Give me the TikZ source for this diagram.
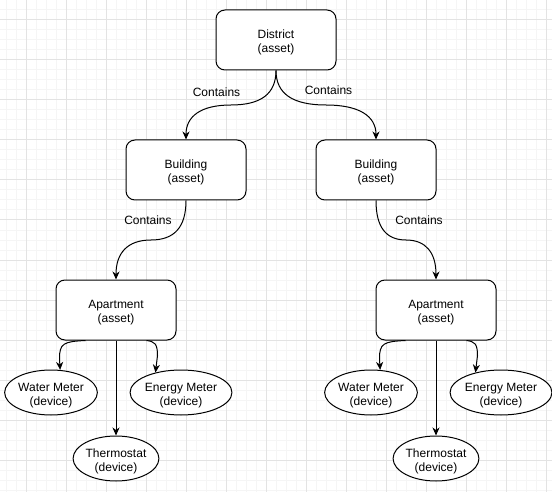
\documentclass[tikz,border=0pt]{standalone}
\usepackage{fontspec}
\setmainfont{Liberation Sans}
\usetikzlibrary{arrows.meta,shapes.geometric,calc}
\definecolor{minorgrid}{HTML}{F5F5F5}
\definecolor{majorgrid}{HTML}{E3E3E3}
\newcommand{\tstrut}{\rule{0pt}{14pt}}
\begin{document}
\begin{tikzpicture}[x=1pt,y=-1pt,
  every node/.style={font=\fontsize{12pt}{14pt}\selectfont},
  asset/.style={draw,line width=1pt,fill=white,rectangle,rounded corners=9pt,
    minimum width=120pt,minimum height=60pt,inner sep=0pt,align=center},
  device/.style={draw,line width=1pt,fill=white,ellipse,
    minimum width=90pt,minimum height=45pt,inner sep=0pt,align=center},
  thermo/.style={device,minimum width=80pt},
  edge/.style={line width=1pt,-{Stealth[length=8pt,width=7pt,inset=2.5pt]}},
  lbl/.style={inner sep=0pt}]
\useasboundingbox (0,0) rectangle (552,492);
\fill[white] (0,0) rectangle (552,492);
% grid
\foreach \x in {6,16,...,546} \draw[minorgrid,line width=1pt] (\x,0) -- (\x,492);
\foreach \y in {0,10,...,490} \draw[minorgrid,line width=1pt] (0,\y) -- (552,\y);
\foreach \x in {26,66,...,546} \draw[majorgrid,line width=1pt] (\x,0) -- (\x,492);
\foreach \y in {20,60,...,490} \draw[majorgrid,line width=1pt] (0,\y) -- (552,\y);
% nodes
\node[asset] (D) at (276,40) {\tstrut District\\(asset)};
\node[asset] (B1) at (186,170) {\tstrut Building\\(asset)};
\node[asset] (B2) at (376,170) {\tstrut Building\\(asset)};
\node[asset] (A1) at (116,310) {\tstrut Apartment\\(asset)};
\node[asset] (A2) at (436,310) {\tstrut Apartment\\(asset)};
\node[device] (W1) at (51,392.5) {\tstrut Water Meter\\(device)};
\node[device] (E1) at (181,392.5) {\tstrut Energy Meter\\(device)};
\node[thermo] (T1) at (116,458.5) {\tstrut Thermostat\\(device)};
\node[device] (W2) at (371,392.5) {\tstrut Water Meter\\(device)};
\node[device] (E2) at (501,392.5) {\tstrut Energy Meter\\(device)};
\node[thermo] (T2) at (436,458.5) {\tstrut Thermostat\\(device)};
% labels
\node[lbl] (l1) at (216.5,92) {Contains};
\node[lbl] (l2) at (328.5,90) {Contains};
\node[lbl] (l3) at (148,220) {Contains};
\node[lbl] (l4) at (419,220) {Contains};
% edges
\draw[edge] (D.south) .. controls +(0,23.3) and +(30,0) .. ($(D.south)!0.5!(B1.north)$)
  .. controls +(-30,0) and +(0,-23.3) .. (B1.north);
\draw[edge] (D.south) .. controls +(0,23.3) and +(-33.3,0) .. ($(D.south)!0.5!(B2.north)$)
  .. controls +(33.3,0) and +(0,-23.3) .. (B2.north);
\draw[edge] (B1.south) .. controls +(0,26.7) and +(23.3,0) .. ($(B1.south)!0.5!(A1.north)$)
  .. controls +(-23.3,0) and +(0,-26.7) .. (A1.north);
\draw[edge] (B2.south) .. controls +(0,26.7) and +(-20,0) .. ($(B2.south)!0.5!(A2.north)$)
  .. controls +(20,0) and +(0,-26.7) .. (A2.north);
% apartment 1
\coordinate (w1s) at ([xshift=30pt]A1.south west);
\coordinate (e1s) at ([xshift=-30pt]A1.south east);
\draw[edge] (w1s) .. controls +(-22,1) and +(0,-15) .. ++(-26,18) -- (W1.68);
\draw[edge] (e1s) .. controls +(8,1) and +(0,-12) .. ++(11,15) -- (E1.142);
\draw[edge] (A1.south) -- (T1.north);
% apartment 2
\coordinate (w2s) at ([xshift=30pt]A2.south west);
\coordinate (e2s) at ([xshift=-30pt]A2.south east);
\draw[edge] (w2s) .. controls +(-22,1) and +(0,-15) .. ++(-26,18) -- (W2.68);
\draw[edge] (e2s) .. controls +(8,1) and +(0,-12) .. ++(11,15) -- (E2.142);
\draw[edge] (A2.south) -- (T2.north);
\end{tikzpicture}
\end{document}
